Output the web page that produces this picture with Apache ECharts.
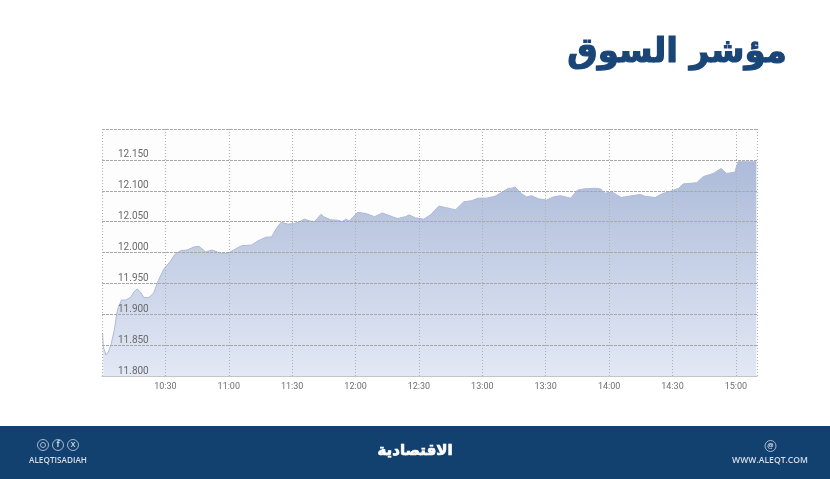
<!DOCTYPE html>
<html><head><meta charset="utf-8">
<style>html,body{margin:0;padding:0;background:#fff}#c{width:830px;height:479px}</style>
<script src="https://cdn.jsdelivr.net/npm/echarts@6/dist/echarts.min.js"></script>
</head><body><div id="c"></div>
<script>
const titleText = 'مؤشر السوق';
const logoText = 'الاقتصادية';
const handleText = 'ALEQTISADIAH';
const siteText = 'WWW.ALEQT.COM';
// minutes since midnight
const minutes = [600.3,600.6,601.9,603,604.2,605.8,607.3,609.2,611.2,613.5,615.1,616.6,618.2,619.8,622.1,624.4,626.7,629.4,632.2,634.5,637.2,640.3,643.5,645.9,649,652.1,656,659.2,662.3,666,670.7,673.9,677.8,680.2,682.5,684.8,688,691,693.5,695.8,698.5,700.6,703.7,704.9,708.1,712,713.6,715.4,717,721,725,729,732.7,737.4,739.8,743.7,745.3,748.4,752.3,755.5,759.4,762.5,767.3,771.2,775,778,782,786,790,792.4,794,795.5,798.6,801,803.4,806.5,810.4,813.6,817,821.8,825,828,832.8,836,838,841.4,845.7,849,854.8,857,861.8,865,869.7,873,875,881.4,884.6,889.3,893,895.6,899.5,901,909.7];
const values = [11869,11847,11834,11839,11850,11874,11907,11923,11923,11927,11936,11941,11936,11927,11927,11934,11955,11974,11985,11997,12003,12004,12009,12010,12001,12004,11999,11998,12004,12011,12012,12019,12025,12025,12039,12049,12046,12047,12050,12054,12051,12050,12062,12058,12053,12052,12050,12054,12051,12065,12063,12058,12064,12058,12055,12058,12061,12056,12054,12061,12075,12073,12069,12082,12084,12088,12088,12091,12099,12104,12104,12106,12095,12090,12092,12087,12085,12090,12092,12088,12101,12103,12104,12103,12096,12098,12089,12091,12094,12091,12089,12095,12100,12104,12111,12113,12123,12128,12136,12128,12130,12147,12147];
const series = minutes.map((m,i)=>[m,values[i]]);
const fmtTime = m => Math.floor(m/60)+':'+String(m%60).padStart(2,'0');
const fmtVal = v => String(v).replace(/(\d{2})(\d{3})$/,'$1.$2');
const navy='#12406f', ringCol='#c9d5e4';
const chart = echarts.init(document.getElementById('c'),null,{renderer:'canvas'});
const ring = (x,y,r)=>({type:'circle',shape:{cx:x,cy:y,r:r},style:{fill:'none',stroke:ringCol,lineWidth:0.8},z:11});
const glyph = (x,y,t,s)=>({type:'text',x:x,y:y,style:{text:t,fill:ringCol,font:'bold '+s+'px "Open Sans"',textAlign:'center',textVerticalAlign:'middle'},z:11});
chart.setOption({
  animation:false,
  backgroundColor:'#fff',
  title:{text:titleText,right:37,top:31,textStyle:{fontFamily:'DejaVu Sans',fontWeight:'bold',fontSize:34,color:'#1a4577',textBorderColor:'#1a4577',textBorderWidth:1.2}},
  grid:{left:102,right:73,top:129,bottom:103,backgroundColor:'#fdfdfd',show:true,borderWidth:0},
  xAxis:{type:'value',min:600,max:910,interval:30,z:5,
    axisLine:{show:true,lineStyle:{color:'#c4c4c4',width:1}},axisTick:{show:false},
    axisLabel:{showMinLabel:false,showMaxLabel:false,formatter:v=>fmtTime(v),color:'#6f6f6f',fontFamily:'Roboto',fontSize:9,margin:6},
    splitLine:{show:true,lineStyle:{color:'#b0b0b0',type:[1,2],width:1}}},
  yAxis:{type:'value',min:11800,max:12200,interval:50,z:5,
    axisLine:{show:false},axisTick:{show:false},
    axisLabel:{inside:true,margin:16,showMaxLabel:false,verticalAlign:'bottom',formatter:v=>fmtVal(v),color:'#6a6a6a',fontFamily:'Roboto',fontSize:10,lineHeight:10},
    splitLine:{show:true,lineStyle:{color:'#a8a8a8',type:[3,1],width:1}}},
  series:[{type:'line',data:series,symbol:'none',smooth:false,z:2,
    lineStyle:{color:'#adbad9',width:1},
    areaStyle:{opacity:1,color:{type:'linear',x:0,y:0,x2:0,y2:1,colorStops:[{offset:0,color:'#adbbd9'},{offset:1,color:'#e2e8f5'}]}}}],
  graphic:[
    {type:'rect',shape:{x:0,y:426,width:830,height:53},style:{fill:navy},z:10},
    ring(43,445,5.5),ring(58,445,5.5),ring(73,445,5.5),ring(770.5,446,5.5),
    {type:'circle',shape:{cx:43,cy:445,r:2.5},style:{fill:'none',stroke:ringCol,lineWidth:0.8},z:11},
    glyph(58,445,'f',8),glyph(73,445,'X',7),glyph(770.5,446,'@',7),
    {type:'text',x:58,y:461,style:{text:handleText,fill:'#d5deea',font:'600 8.2px "Open Sans"',textAlign:'center',textVerticalAlign:'middle'},z:11},
    {type:'text',x:770,y:461,style:{text:siteText,fill:'#d5deea',font:'600 8.6px "Open Sans"',textAlign:'center',textVerticalAlign:'middle'},z:11},
    {type:'text',x:415,y:451,style:{text:logoText,fill:'#ffffff',stroke:'#ffffff',lineWidth:0.7,font:'bold 15px "DejaVu Sans"',textAlign:'center',textVerticalAlign:'middle'},z:11}
  ]
});
</script></body></html>
